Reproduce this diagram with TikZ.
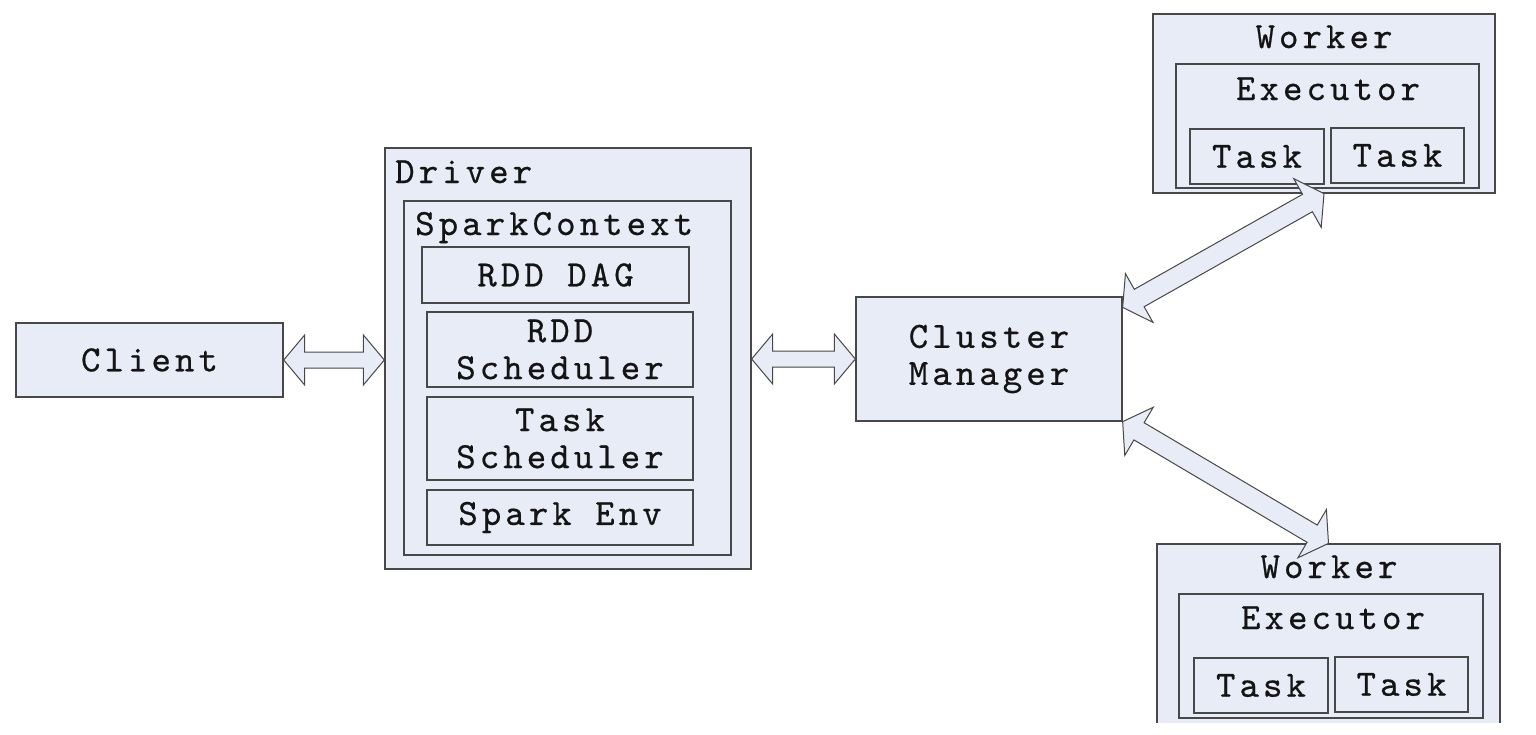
\documentclass[tikz,border=0pt]{standalone}
\usepackage{fontspec}
\newfontfamily\lbl{lmmono10-regular.otf}[LetterSpace=11,FakeBold=0.6]
\usetikzlibrary{calc}
\definecolor{boxfill}{RGB}{231,236,246}
\definecolor{boxline}{RGB}{72,72,72}
\definecolor{txtcol}{RGB}{20,20,20}
\tikzset{
  lblfont/.style={font=\lbl\fontsize{37}{37}\selectfont},
  box/.style={draw=boxline, fill=boxfill, line width=1.3pt, inner sep=0pt, text=txtcol,
              lblfont, align=center},
  txt/.style={lblfont, inner sep=0pt, align=center, text=txtcol},
  blockarrow/.style={draw=boxline, fill=boxfill, line width=1pt, line join=miter},
}
\newcommand\blkarrow[5]{%
  \path ($(#1)!#3!(#2)$) coordinate (h1) ($(#2)!#3!(#1)$) coordinate (h2);
  \draw[blockarrow] (#1) -- ($(h1)!#4!90:(#2)$) -- ($(h1)!#5!90:(#2)$)
    -- ($(h2)!#5!-90:(#1)$) -- ($(h2)!#4!-90:(#1)$) -- (#2)
    -- ($(h2)!#4!90:(#1)$) -- ($(h2)!#5!90:(#1)$)
    -- ($(h1)!#5!-90:(#2)$) -- ($(h1)!#4!-90:(#2)$) -- cycle;
}
\begin{document}
\begin{tikzpicture}[x=1pt,y=-1pt]
\useasboundingbox[fill=white] (0,0) rectangle (1536,734);

% Client
\node[box, minimum width=267pt, minimum height=74pt] (client) at (149.5,360) {Client};

% Driver
\node[box, minimum width=366pt, minimum height=421pt] (driver) at (568,358.5) {};
\node[txt, anchor=base west] (drivert) at (395,183) {Driver};
\node[box, minimum width=327pt, minimum height=354pt] (sc) at (567.5,378) {};
\node[txt, anchor=base west] (sct) at (415,235) {SparkContext};
\node[box, minimum width=267pt, minimum height=56pt] (dag) at (555.5,275) {RDD DAG};
\node[box, minimum width=266pt, minimum height=75pt] (rsch) at (560,349.5) {RDD\\Scheduler};
\node[box, minimum width=266pt, minimum height=83pt] (tsch) at (560,438.5) {Task\\Scheduler};
\node[box, minimum width=266pt, minimum height=55pt] (env) at (560,517.5) {Spark Env};

% Cluster Manager
\node[box, minimum width=266pt, minimum height=124pt] (cm) at (989,359) {Cluster\\Manager};

% Worker 1
\node[box, minimum width=342pt, minimum height=179pt] (w1) at (1324,103.5) {};
\node[txt, anchor=base] (w1t) at (1324,48) {Worker};
\node[box, minimum width=303pt, minimum height=124pt] (e1) at (1327.5,126) {};
\node[txt, anchor=base] (e1t) at (1328,100) {Executor};
\node[box, minimum width=134pt, minimum height=55pt] (t11) at (1257,156.5) {Task};
\node[box, minimum width=133pt, minimum height=55pt] (t12) at (1397.5,155.5) {Task};

% Worker 2 (cut off at the bottom of the picture)
\begin{scope}
\clip (0,0) rectangle (1536,722);
\node[box, minimum width=343pt, minimum height=180pt] (w2) at (1328.5,634) {};
\node[txt, anchor=base] (w2t) at (1329,578) {Worker};
\node[box, minimum width=304pt, minimum height=124pt] (e2) at (1331,656) {};
\node[txt, anchor=base] (e2t) at (1333,629) {Executor};
\node[box, minimum width=134pt, minimum height=55pt] (t21) at (1261,685.5) {Task};
\node[box, minimum width=133pt, minimum height=55pt] (t22) at (1401.5,684.5) {Task};
\end{scope}

% connectors
\coordinate (a1s) at (client.east);
\coordinate (a1e) at (client.east -| driver.west);
\coordinate (a2s) at (driver.east |- cm.west);
\coordinate (a2e) at (cm.west);
\coordinate (a3s) at ($(cm.north east)+(0,11)$);
\coordinate (a3e) at (w1.south);
\coordinate (a4s) at (cm.south east);
\coordinate (a4e) at (w2.north);
\blkarrow{a1s}{a1e}{21pt}{25pt}{8pt}
\blkarrow{a2s}{a2e}{21pt}{25pt}{8pt}
\blkarrow{a3s}{a3e}{19pt}{28pt}{10pt}
\blkarrow{a4s}{a4e}{19pt}{28pt}{10pt}
\end{tikzpicture}
\end{document}
